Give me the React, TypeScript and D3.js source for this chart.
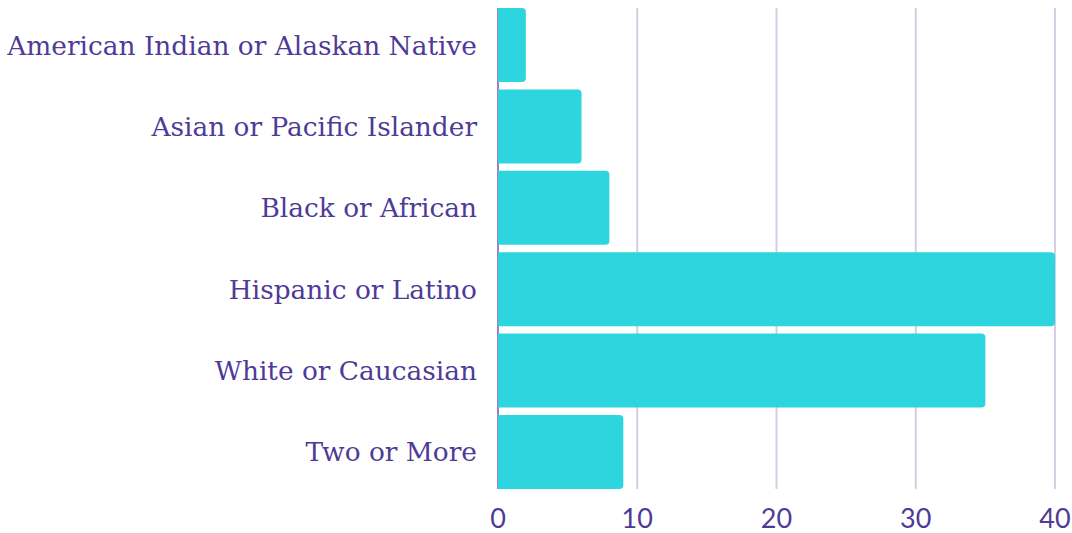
import React, { useEffect, useRef } from "react";
import * as d3 from "d3";

const categories = [
  "American Indian or Alaskan Native",
  "Asian or Pacific Islander",
  "Black or African",
  "Hispanic or Latino",
  "White or Caucasian",
  "Two or More",
];
const values = [2, 6, 8, 40, 35, 9];
const xTicks = [0, 10, 20, 30, 40];

const W = 1072;
const H = 533;
const margin = { top: 8, right: 17, bottom: 44, left: 498 };

const labelColor = "#4f3b97";
const barColor = "#2dd5df";
const gridColor = "#d5cde5";

const draw = (node: SVGSVGElement) => {
  const svg = d3.select(node);
  svg.selectAll("*").remove();

  const x = d3
    .scaleLinear()
    .domain([0, 40])
    .range([margin.left, W - margin.right]);
  const y = d3
    .scaleBand<string>()
    .domain(categories)
    .range([margin.top, H - margin.bottom])
    .paddingInner(0.09)
    .paddingOuter(0);

  // grid
  svg
    .append("g")
    .selectAll("line")
    .data(xTicks)
    .enter()
    .append("line")
    .attr("x1", d => x(d))
    .attr("x2", d => x(d))
    .attr("y1", margin.top)
    .attr("y2", H - margin.bottom)
    .attr("stroke", d => (d === 0 ? "#9d7fc6" : gridColor))
    .attr("stroke-width", 2);

  // bars, rounded on the right
  const r = 4;
  svg
    .append("g")
    .selectAll("path")
    .data(values)
    .enter()
    .append("path")
    .attr("fill", barColor)
    .attr("d", (v, i) => {
      const x0 = x(0);
      const x1 = x(v);
      const y0 = y(categories[i])!;
      const h = y.bandwidth();
      const p = d3.path();
      p.moveTo(x0, y0);
      p.lineTo(x1 - r, y0);
      p.quadraticCurveTo(x1, y0, x1, y0 + r);
      p.lineTo(x1, y0 + h - r);
      p.quadraticCurveTo(x1, y0 + h, x1 - r, y0 + h);
      p.lineTo(x0, y0 + h);
      p.closePath();
      return p.toString();
    });

  // category labels
  svg
    .append("g")
    .selectAll("text")
    .data(categories)
    .enter()
    .append("text")
    .attr("x", x(0) - 21)
    .attr("y", d => y(d)! + y.bandwidth() / 2)
    .attr("dy", "0.36em")
    .attr("text-anchor", "end")
    .attr("fill", labelColor)
    .style("font-family", "'DejaVu Serif', serif")
    .style("font-size", "26.4px")
    .text(d => d);

  // x tick labels
  svg
    .append("g")
    .selectAll("text")
    .data(xTicks)
    .enter()
    .append("text")
    .attr("x", d => x(d))
    .attr("y", 528)
    .attr("text-anchor", "middle")
    .attr("fill", labelColor)
    .style("font-family", "Lato, sans-serif")
    .style("font-size", "27px")
    .text(d => String(d));
};

const App = () => {
  const ref = useRef<SVGSVGElement>(null);
  useEffect(() => {
    if (ref.current) draw(ref.current);
  }, []);
  return (
    <svg
      ref={ref}
      width={W}
      height={H}
      style={{ position: "absolute", left: 0, top: 0, background: "#fff" }}
    />
  );
};

export default App;
